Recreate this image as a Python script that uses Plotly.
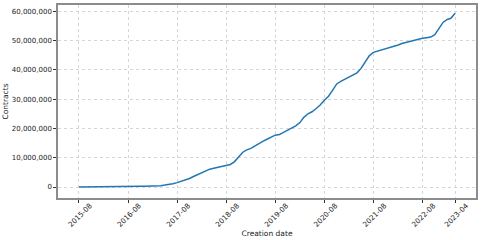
import pandas as pd
import plotly.graph_objects as go

# Monthly cumulative contracts (millions), 2015-08 .. 2023-04
start_month = "2015-08-01"
contracts_millions = [
    0.0, 0.0, 0.01, 0.02, 0.03, 0.04, 0.05, 0.06, 0.08, 0.1, 0.12, 0.15,
    0.18, 0.2, 0.22, 0.24, 0.26, 0.28, 0.3, 0.35, 0.45, 0.65, 0.85, 1.15,
    1.5, 1.9, 2.3, 2.9, 3.6, 4.3, 4.9, 5.5, 6.1, 6.4, 6.7, 7.0,
    7.3, 7.7, 8.6, 10.2, 11.8, 12.7, 13.2, 14.0, 14.9, 15.6, 16.3, 17.1,
    17.7, 17.9, 18.6, 19.4, 20.0, 20.9, 22.0, 23.8, 25.0, 25.7, 26.8, 28.0,
    29.6, 31.0, 33.0, 35.2, 36.1, 36.8, 37.5, 38.3, 39.0, 40.5, 42.5, 44.8,
    46.0, 46.4, 46.8, 47.1, 47.5, 48.0, 48.5, 49.0, 49.4, 49.8, 50.2, 50.5,
    50.8, 51.0, 51.2, 52.0, 54.2, 56.2, 57.2, 57.6, 59.3,
]
tick_labels = ["2015-08", "2016-08", "2017-08", "2018-08", "2019-08",
               "2020-08", "2021-08", "2022-08", "2023-04"]
y_ticks = [0, 10_000_000, 20_000_000, 30_000_000, 40_000_000, 50_000_000, 60_000_000]

dates = pd.date_range(start_month, periods=len(contracts_millions), freq="MS")
values = [v * 1_000_000 for v in contracts_millions]

span = dates[-1] - dates[0]
pad = span * (0.05 / 0.9)
x_range = [dates[0] - pad, dates[-1] + pad]

font = "DejaVu Sans"
fig = go.Figure(go.Scatter(x=dates, y=values, mode="lines",
                           line=dict(color="#1f77b4", width=1.5),
                           showlegend=False, hoverinfo="skip"))
fig.update_layout(
    width=485, height=240,
    margin=dict(l=58, r=9, t=5, b=42),
    paper_bgcolor="white", plot_bgcolor="white",
    font=dict(family=font, size=7, color="#222"),
)
axis_common = dict(showline=True, mirror=True, linecolor="#8c8c8c", linewidth=1.5,
                   showgrid=True, gridcolor="#d6d6d6", griddash="dot", gridwidth=0.8,
                   ticks="outside", ticklen=3, tickcolor="#333", tickwidth=0.8,
                   zeroline=False, automargin=False)
fig.update_xaxes(range=x_range, tickvals=pd.to_datetime([t + "-01" for t in tick_labels]),
                 ticktext=tick_labels, tickangle=-45, ticklabelshift=11, ticklabelstandoff=-4,
                 tickfont=dict(size=7.2, family=font, color="#222"),
                 title=dict(text="Creation date", font=dict(size=7.5, family=font), standoff=0),
                 **axis_common)
fig.update_yaxes(range=[-3_750_000, 62_150_000], tickvals=y_ticks, tickformat=",d",
                 tickfont=dict(size=7, family=font, color="#222"),
                 title=dict(text="Contracts", font=dict(size=7.5, family=font), standoff=2),
                 **axis_common)
fig.write_html("out.html", config={"displayModeBar": False},
               post_script="document.body.style.margin='0';document.body.style.overflow='hidden';")
